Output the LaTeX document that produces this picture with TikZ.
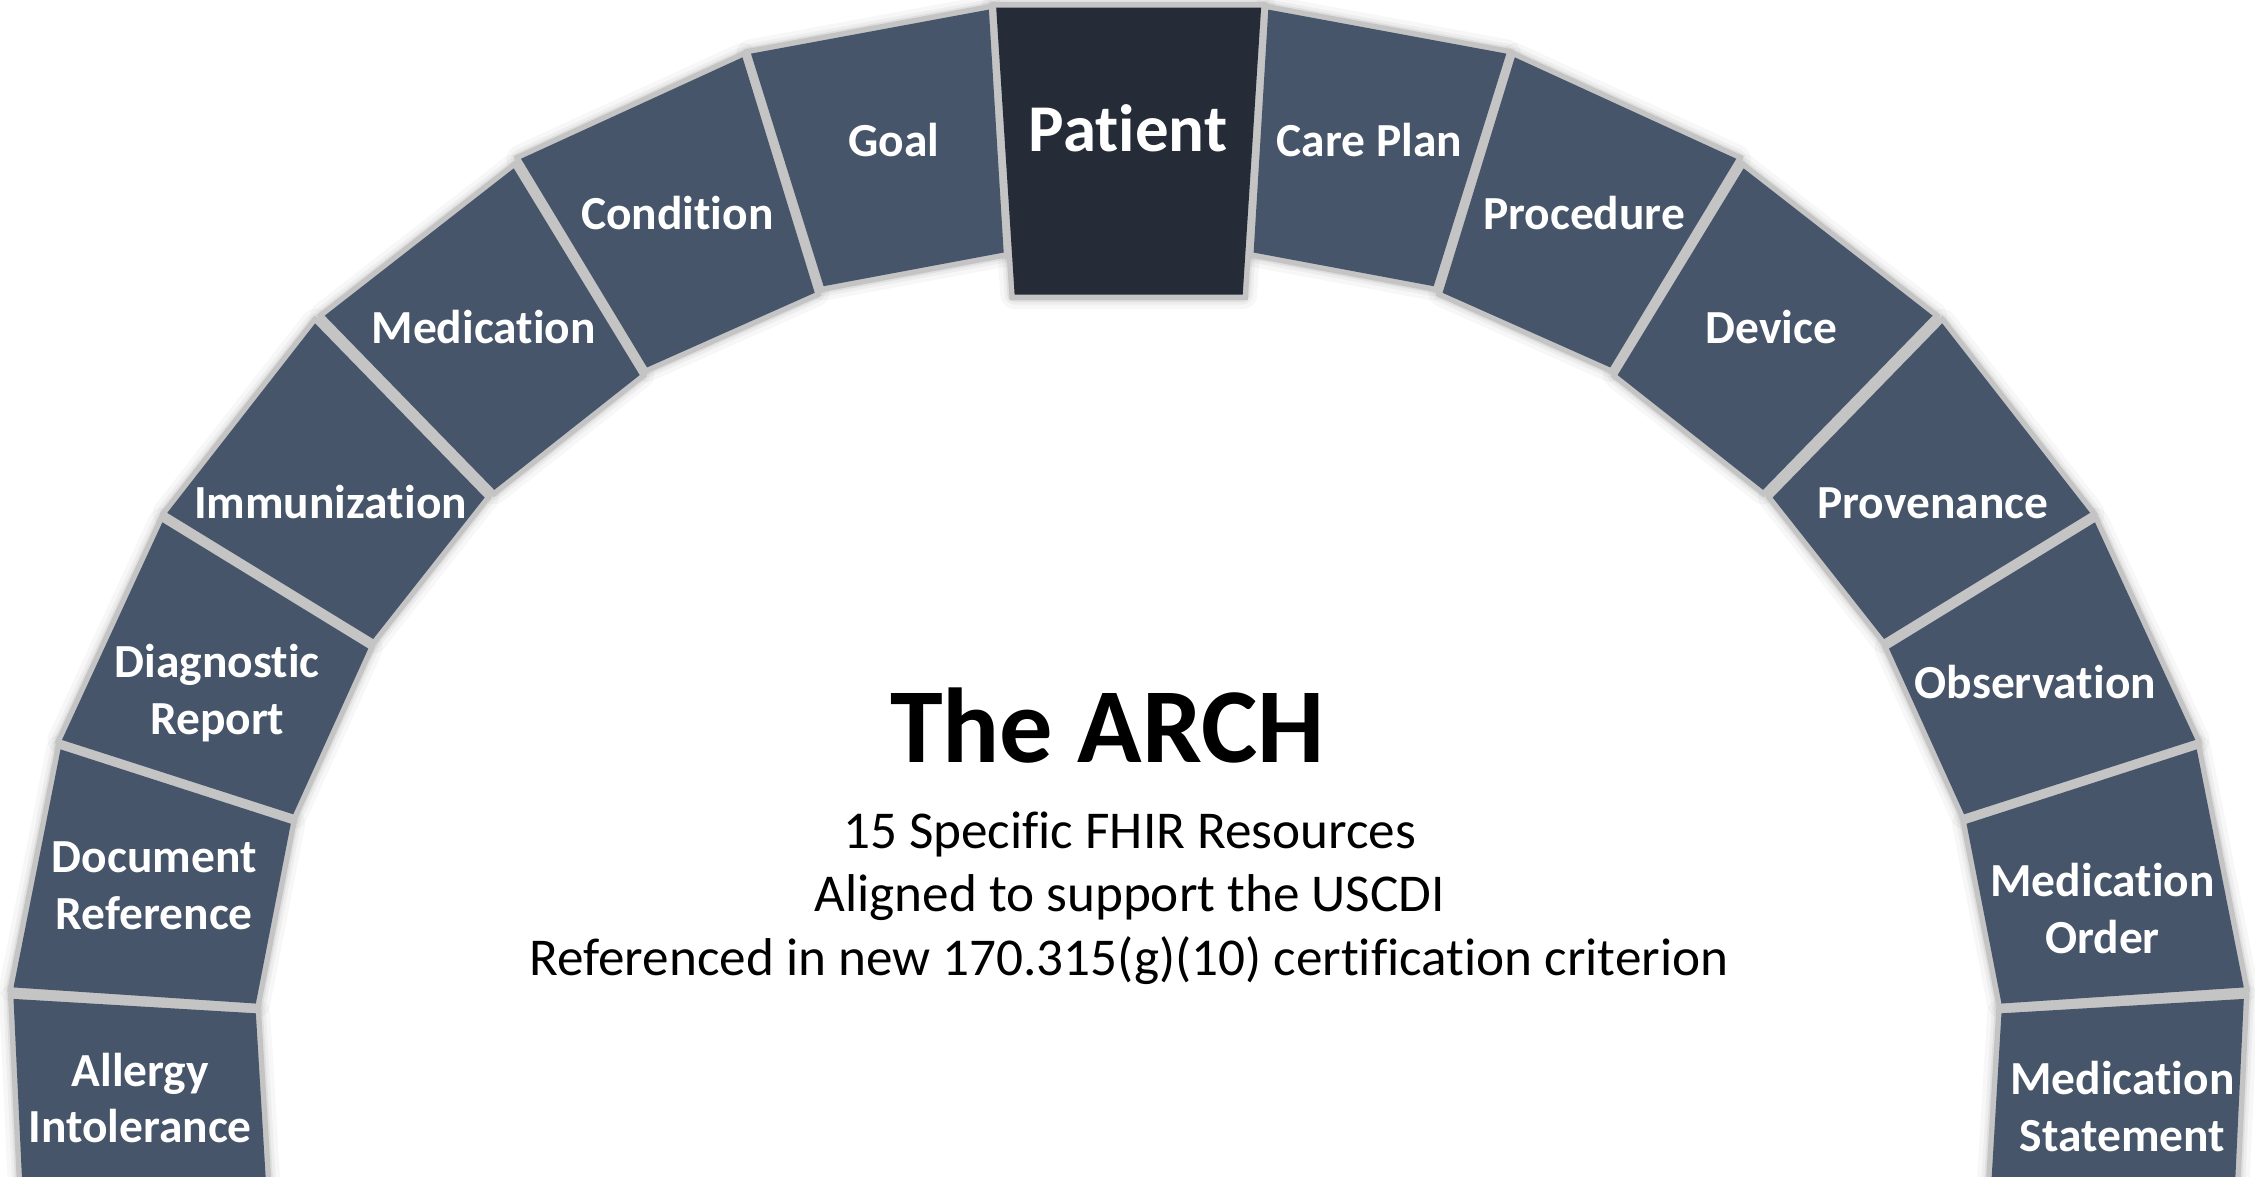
\documentclass[tikz,border=0pt]{standalone}
\usepackage{fontspec}
\setmainfont{Carlito}[Ligatures={NoCommon}]
\definecolor{segfill}{HTML}{46556A}
\definecolor{patfill}{HTML}{252B37}
\definecolor{gapgray}{HTML}{C4C4C4}
\pgfdeclarelayer{shadowlayer}
\pgfdeclarelayer{rimlayer}
\pgfsetlayers{shadowlayer,rimlayer,main}
\newcommand\archseg[2]{%
  \begin{pgfonlayer}{shadowlayer}
    \draw[black,draw opacity=0.03,line width=20,line join=round] #2;
    \draw[black,draw opacity=0.04,line width=14,line join=round] #2;
    \draw[black,draw opacity=0.06,line width=10,line join=round] #2;
  \end{pgfonlayer}
  \begin{pgfonlayer}{rimlayer}
    \draw[draw=gapgray,line width=7.5,line join=miter] #2;
  \end{pgfonlayer}
  \fill[#1] #2;}
\begin{document}
\begin{tikzpicture}[x=1pt,y=-1pt,
  lbl/.style={text=white,font=\fontsize{33}{40}\selectfont\bfseries,anchor=base,inner sep=0pt},
  sub/.style={text=black,font=\fontsize{37}{44}\selectfont,anchor=base,inner sep=0pt}]
\useasboundingbox (0,0) rectangle (1568,818);
\clip (0,0) rectangle (1568,818);
% left half
\archseg{segfill}{(9.4,694.6) -- (177.9,704.6) -- (185.4,830) -- (15.8,830) -- cycle}
\archseg{segfill}{(42.1,521.1) -- (202.2,572.8) -- (177.9,697.8) -- (9.4,686.6) -- cycle}
\archseg{segfill}{(112.9,363.2) -- (256.1,451.0) -- (203.9,566.2) -- (43.1,514.5) -- cycle}
\archseg{segfill}{(219.1,224.9) -- (337,346) -- (259.5,444.3) -- (116.3,356.6) -- cycle}
\archseg{segfill}{(357.2,117.1) -- (444.8,260.8) -- (343.7,340.6) -- (225.8,219.5) -- cycle}
\archseg{segfill}{(516.3,39.9) -- (566.5,203.6) -- (449.9,255.5) -- (362.3,110.4) -- cycle}
\archseg{segfill}{(687.6,6.7) -- (697.9,175.6) -- (572.7,199.0) -- (522.2,37.3) -- cycle}
% keystone
\archseg{patfill}{(692.7,5.3) -- (876.9,5.3) -- (864.1,204.9) -- (705.5,204.9) -- cycle}
% right half
\archseg{segfill}{(881.9,6.7) -- (871.7,175.6) -- (996.9,199.0) -- (1047.4,37.3) -- cycle}
\archseg{segfill}{(1053.3,39.9) -- (1003.1,203.6) -- (1119.7,255.5) -- (1207.3,110.4) -- cycle}
\archseg{segfill}{(1212.4,117.1) -- (1124.8,260.8) -- (1225.9,340.6) -- (1343.8,219.5) -- cycle}
\archseg{segfill}{(1350.5,224.9) -- (1232.6,346) -- (1310.1,444.3) -- (1453.3,356.6) -- cycle}
\archseg{segfill}{(1456.7,363.2) -- (1313.5,451.0) -- (1365.7,566.2) -- (1526.5,514.5) -- cycle}
\archseg{segfill}{(1527.5,521.1) -- (1367.4,572.8) -- (1391.7,697.8) -- (1560.2,686.6) -- cycle}
\archseg{segfill}{(1560.2,694.6) -- (1391.7,704.6) -- (1384.2,830) -- (1553.8,830) -- cycle}
% labels
\node[lbl] (allergyA) at (97.5,755.5) {Allergy};
\node[lbl] (allergyB) at (97.5,794.7) {Intolerance};
\node[lbl] (docA) at (107.3,606.7) {Document};
\node[lbl] (docB) at (107.3,646.4) {Reference};
\node[lbl] (diagA) at (151.1,470.8) {Diagnostic};
\node[lbl] (diagB) at (151.1,510.5) {Report};
\node[lbl] (immu) at (229.8,360.6) {Immunization};
\node[lbl] (medi) at (336.3,239.0) {Medication};
\node[lbl] (cond) at (471.0,159.7) {Condition};
\node[lbl] (goal) at (621.5,109.1) {Goal};
\node[lbl,font=\fontsize{46.5}{56}\selectfont\bfseries] (patient) at (784.4,105.1) {Patient};
\node[lbl] (care) at (952.2,109.1) {Care Plan};
\node[lbl] (proc) at (1101.5,159.7) {Procedure};
\node[lbl] (devi) at (1231.8,239.0) {Device};
\node[lbl] (prov) at (1344.0,360.6) {Provenance};
\node[lbl] (obse) at (1415.3,485.9) {Observation};
\node[lbl] (mordA) at (1462.0,623.6) {Medication};
\node[lbl] (mordB) at (1462.0,663.3) {Order};
\node[lbl] (mstaA) at (1475.8,761.3) {Medication};
\node[lbl] (mstaB) at (1475.8,801.0) {Statement};
% centre text
\node[anchor=base,inner sep=0pt,font=\fontsize{74}{88}\selectfont\bfseries] (title) at (770,530.4) {The ARCH};
\node[sub] (lineA) at (785.5,590) {15 Specific FHIR Resources};
\node[sub] (lineB) at (785.5,634) {Aligned to support the USCDI};
\node[sub] (lineC) at (785,678) {Referenced in new 170.315(g)(10) certification criterion};
\end{tikzpicture}
\end{document}
